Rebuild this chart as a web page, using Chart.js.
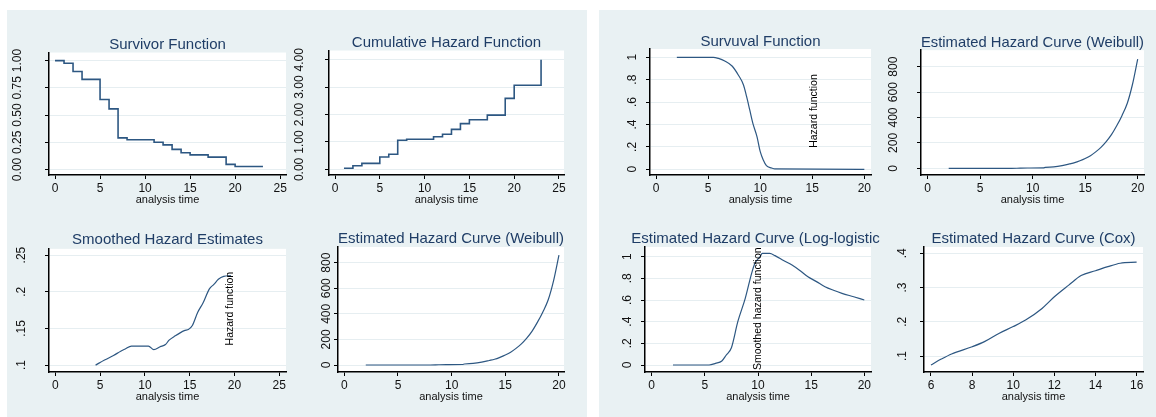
<!DOCTYPE html>
<html>
<head>
<meta charset="utf-8">
<script src="https://cdn.jsdelivr.net/npm/chart.js@4"></script>
<style>
    body { margin: 0; width: 1156px; height: 417px; background: #fff; position: relative; overflow: hidden; }
    .panel { position: absolute; background: #e9f1f3; }
    .box { position: absolute; }
    .inner { position: absolute; left: 0; top: 0; }
</style>
</head>
<body>
<div class="panel" style="left:7px;top:10px;width:580px;height:407px"></div>
<div class="panel" style="left:599px;top:10px;width:557px;height:407px"></div>
<script>
// ---- data ----
const x25Ticks = [0, 5, 10, 15, 20, 25];
const x20Ticks = [0, 5, 10, 15, 20];
const coxXTicks = [6, 8, 10, 12, 14, 16];

const survYTicks = [0, 0.25, 0.5, 0.75, 1];
const survYLabels = ["0.00", "0.25", "0.50", "0.75", "1.00"];
const cumYTicks = [0, 1, 2, 3, 4];
const cumYLabels = ["0.00", "1.00", "2.00", "3.00", "4.00"];
const smoothYTicks = [0.1, 0.15, 0.2, 0.25];
const smoothYLabels = [".1", ".15", ".2", ".25"];
const weibYTicks = [0, 200, 400, 600, 800];
const weibYLabels = ["0", "200", "400", "600", "800"];
const propYTicks = [0, 0.2, 0.4, 0.6, 0.8, 1];
const propYLabels = ["0", ".2", ".4", ".6", ".8", "1"];
const coxYTicks = [0.1, 0.2, 0.3, 0.4];
const coxYLabels = [".1", ".2", ".3", ".4"];

const kmTime = [0, 1, 2, 3, 5, 6, 7, 8, 11, 12, 13, 14, 15, 17, 19, 20, 23];
const kmSurv = [1, 0.976, 0.90, 0.827, 0.643, 0.556, 0.29, 0.273, 0.25, 0.226, 0.184, 0.154, 0.134, 0.113, 0.047, 0.027, 0.02];

const cumTime = [1, 2, 3, 5, 6, 7, 8, 11, 12, 13, 14, 15, 17, 19, 20, 23];
const cumHaz = [0.04, 0.13, 0.22, 0.45, 0.55, 1.06, 1.10, 1.19, 1.28, 1.46, 1.67, 1.81, 1.98, 2.59, 3.07, 4.0];

const smoothTime = [4.5, 5.5, 6.5, 7.3, 7.8, 8.5, 9.5, 10.4, 11.0, 11.7, 12.3, 12.7, 13.4, 14.4, 14.9, 15.3, 15.9, 16.5, 17.2, 17.7, 18.2, 18.8, 19.6];
const smoothHaz = [0.100, 0.107, 0.113, 0.119, 0.122, 0.126, 0.126, 0.126, 0.121, 0.125, 0.128, 0.134, 0.140, 0.147, 0.149, 0.154, 0.172, 0.185, 0.204, 0.210, 0.217, 0.221, 0.222];

const weibTime = [2, 4, 6, 8, 8.8, 9.5, 11, 11.2, 12, 12.8, 13.5, 14, 14.5, 15, 15.5, 16, 16.5, 17, 17.5, 18, 18.5, 19, 19.5, 20];
const weibHaz = [0, 0, 0, 0, 2, 3, 4, 8, 12, 22, 35, 45, 60, 78, 100, 130, 165, 210, 265, 335, 415, 510, 660, 860];

const fitTime = [2, 5.5, 6.0, 6.6, 7.3, 7.9, 8.4, 8.7, 9.0, 9.3, 9.7, 10.0, 10.3, 10.6, 11.1, 11.4, 20];
const fitSurv = [1, 1, 0.99, 0.967, 0.922, 0.842, 0.753, 0.648, 0.53, 0.41, 0.29, 0.16, 0.083, 0.032, 0.012, 0.003, 0];

const llTime = [2, 5.4, 6.0, 6.6, 7.0, 7.5, 8.1, 8.8, 9.4, 9.7, 10.2, 10.4, 11.1, 11.6, 12.4, 13.2, 14.0, 14.7, 15.5, 16.3, 17.1, 17.9, 19.0, 20];
const llHaz = [0, 0, 0.015, 0.037, 0.09, 0.16, 0.40, 0.615, 0.846, 0.937, 1.0, 1.03, 1.03, 1.01, 0.965, 0.923, 0.868, 0.815, 0.77, 0.723, 0.69, 0.662, 0.63, 0.60];

const coxTime = [6, 6.5, 7, 8, 8.6, 9.3, 10, 10.6, 11.4, 12, 12.7, 13.3, 14, 14.6, 15.2, 16];
const coxHaz = [0.074, 0.091, 0.106, 0.127, 0.142, 0.166, 0.186, 0.205, 0.239, 0.273, 0.307, 0.335, 0.349, 0.361, 0.371, 0.374];

// ---- drawing ----
const FONT = '"Liberation Sans", Arial, sans-serif';
const LINE = "#2d5782";
const TITLE = "#1f3d66";
const GRID = "#e6eef1";

const measure = document.createElement("canvas").getContext("2d");
measure.font = "12px " + FONT;
function widest(labels) {
    return Math.max(...labels.map(l => measure.measureText(l).width));
}

const whiteArea = {
    id: "whiteArea",
    beforeDraw(chart) {
        const { ctx, chartArea: a } = chart;
        ctx.save();
        ctx.fillStyle = "#fff";
        ctx.fillRect(a.left, a.top, a.right - a.left, a.bottom - a.top);
        ctx.restore();
    }
};

const sideNote = {
    id: "sideNote",
    afterDatasetsDraw(chart, args, opts) {
        if (!opts || !opts.text) return;
        const { ctx, scales: { x, y } } = chart;
        ctx.save();
        ctx.translate(x.getPixelForValue(opts.at[0]), y.getPixelForValue(opts.at[1]));
        ctx.rotate(-Math.PI / 2);
        ctx.font = "10.5px " + FONT;
        ctx.fillStyle = "#000";
        ctx.textAlign = "center";
        ctx.textBaseline = "middle";
        ctx.fillText(opts.text, 0, 0);
        ctx.restore();
    }
};

function makeChart(c) {
    const W = 45, H = 33;
    const T = 19 + c.tpad;
    const R = c.rpad || 6;
    const left = c.box[0] - W, top = c.box[1] - T;
    const width = c.box[2] + R - left, height = c.box[3] + H - top;

    const wrap = document.createElement("div");
    wrap.className = "box";
    wrap.style.left = left + "px";
    wrap.style.top = top + "px";
    wrap.style.width = (c.clipW || width) + "px";
    wrap.style.height = height + "px";
    wrap.style.overflow = "hidden";
    const inner = document.createElement("div");
    inner.className = "inner";
    inner.style.width = width + "px";
    inner.style.height = height + "px";
    const cv = document.createElement("canvas");
    inner.appendChild(cv);
    wrap.appendChild(inner);
    document.body.appendChild(wrap);

    const scales = {
        x: {
            type: "linear",
            min: c.xr[0],
            max: c.xr[1],
            afterBuildTicks: s => { s.ticks = c.xt.map(v => ({ value: v })); },
            afterFit: s => { s.height = H; },
            border: { color: "#000", width: 1.5 },
            grid: { drawOnChartArea: false, tickLength: 4, tickColor: "#000", tickWidth: 1 },
            ticks: {
                autoSkip: false, maxRotation: 0, padding: 2, color: "#111",
                font: { family: FONT, size: 12 },
                callback: v => String(v)
            },
            title: {
                display: true, text: "analysis time", color: "#111",
                font: { family: FONT, size: 11, lineHeight: 1 },
                padding: { top: 0, bottom: 2.5 }
            }
        },
        y: {
            type: "linear",
            min: c.yr[0],
            max: c.yr[1],
            afterBuildTicks: s => { s.ticks = c.yt.map(v => ({ value: v })); },
            afterFit: s => { s.width = W; },
            border: { color: "#000", width: 1.5 },
            grid: { color: GRID, lineWidth: 1, tickLength: 4, tickColor: "#000", tickWidth: 1 },
            ticks: {
                autoSkip: false, minRotation: 90, maxRotation: 90, crossAlign: "center",
                padding: c.gap - 4 - widest(c.yl) / 2,
                color: "#111",
                font: { family: FONT, size: 12 },
                callback: (v, i) => c.yl[i]
            }
        }
    };
    if (c.fullTitle) {
        // empty right-hand box so a full-width title stays centred on the plot
        scales.pad = {
            type: "linear", position: "right", display: true,
            grid: { display: false }, border: { display: false }, ticks: { display: false },
            afterFit: s => { s.width = R; }
        };
    }

    new Chart(cv, {
        type: "line",
        data: {
            datasets: [{
                data: c.xs.map((x, i) => ({ x: x, y: c.ys[i] })),
                borderColor: LINE,
                borderWidth: c.lw || 1.2,
                pointRadius: 0,
                stepped: !!c.stepped,
                cubicInterpolationMode: c.stepped ? "default" : "monotone",
                fill: false,
                tension: 0
            }]
        },
        options: {
            responsive: true,
            maintainAspectRatio: false,
            animation: false,
            devicePixelRatio: 1,
            events: [],
            layout: { padding: { left: 0, top: 0, right: c.fullTitle ? 0 : R, bottom: 0 } },
            plugins: {
                legend: { display: false },
                tooltip: { enabled: false },
                title: {
                    display: true,
                    text: c.title,
                    fullSize: !!c.fullTitle,
                    color: TITLE,
                    font: { family: FONT, size: 15, weight: "normal", lineHeight: 1 },
                    padding: { top: 4, bottom: c.tpad }
                },
                sideNote: c.note || {}
            },
            scales: scales
        },
        plugins: [whiteArea, sideNote]
    });
}

// left panel
makeChart({ title: "Survivor Function", box: [49, 49, 286, 175], tpad: 0,
    xr: [-0.67, 25.65], yr: [-0.051, 1.074], xt: x25Ticks, yt: survYTicks, yl: survYLabels, gap: 31,
    xs: kmTime, ys: kmSurv, stepped: true, lw: 1.6 });
makeChart({ title: "Cumulative Hazard Function", box: [329, 49, 564, 175], tpad: 0,
    xr: [-0.67, 25.56], yr: [-0.205, 4.335], xt: x25Ticks, yt: cumYTicks, yl: cumYLabels, gap: 29,
    xs: cumTime, ys: cumHaz, stepped: true, lw: 1.6 });
makeChart({ title: "Smoothed Hazard Estimates", box: [49, 247, 286, 372], tpad: 1,
    xr: [-0.7, 25.75], yr: [0.0906, 0.2585], xt: x25Ticks, yt: smoothYTicks, yl: smoothYLabels, gap: 27,
    xs: smoothTime, ys: smoothHaz, note: { text: "Hazard function", at: [19.46, 0.177] } });
makeChart({ title: "Estimated Hazard Curve (Weibull)", box: [338, 247, 564, 372], tpad: 1,
    xr: [-0.587, 20.47], yr: [-54.7, 922.8], xt: x20Ticks, yt: weibYTicks, yl: weibYLabels, gap: 11,
    xs: weibTime, ys: weibHaz });

// right panel
makeChart({ title: "Survuval Function", box: [650, 49, 871, 175], tpad: 0,
    xr: [-0.576, 20.64], yr: [-0.051, 1.074], xt: x20Ticks, yt: propYTicks, yl: propYLabels, gap: 17,
    xs: fitTime, ys: fitSurv, note: { text: "Hazard function", at: [15.2, 0.52] } });
makeChart({ title: "Estimated Hazard Curve (Weibull)", box: [921, 49, 1144, 175], tpad: 0,
    xr: [-0.638, 20.6], yr: [-52.2, 930], xt: x20Ticks, yt: weibYTicks, yl: weibYLabels, gap: 27,
    xs: weibTime, ys: weibHaz });
makeChart({ title: "Estimated Hazard Curve (Log-logistic)", box: [645, 247, 871, 372], tpad: 1,
    rpad: 45, clipW: 280, fullTitle: true,
    xr: [-0.63, 20.63], yr: [-0.0646, 1.0896], xt: x20Ticks, yt: propYTicks, yl: propYLabels, gap: 17,
    xs: llTime, ys: llHaz, note: { text: "Smoothed hazard function", at: [10.03, 0.52] } });
makeChart({ title: "Estimated Hazard Curve (Cox)", box: [924, 247, 1143, 372], tpad: 1,
    xr: [5.66, 16.31], yr: [0.0533, 0.4184], xt: coxXTicks, yt: coxYTicks, yl: coxYLabels, gap: 21,
    xs: coxTime, ys: coxHaz });
</script>
</body>
</html>
